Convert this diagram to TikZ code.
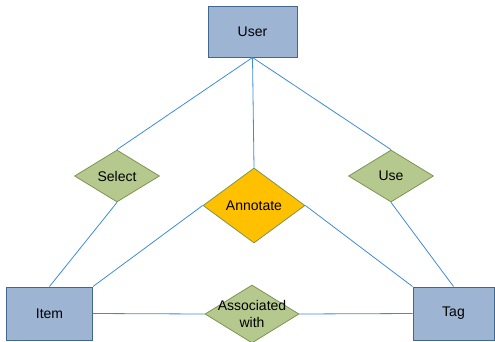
\documentclass[tikz,border=0pt]{standalone}
\usepackage{fontspec}
\setmainfont{Liberation Sans}
\usetikzlibrary{shapes.geometric}
\definecolor{boxfill}{HTML}{9DB4D3}
\definecolor{boxdraw}{HTML}{41678F}
\definecolor{dfill}{HTML}{B5C98E}
\definecolor{ddraw}{HTML}{7D9450}
\definecolor{afill}{HTML}{FFC000}
\definecolor{link}{HTML}{3E8CD8}
\tikzset{
  ent/.style={draw=boxdraw, fill=boxfill, line width=1pt, minimum width=86pt, minimum height=52pt, inner sep=0pt, font=\fontsize{14}{17}\selectfont},
  rel/.style={diamond, draw=ddraw, fill=dfill, line width=0.8pt, inner sep=0pt, minimum width=85pt, minimum height=52pt, label={[font=\fontsize{14}{17.5}\selectfont, align=center]center:#1}},
  conn/.style={draw=link, line width=0.8pt},
}
\begin{document}
\begin{tikzpicture}[x=1pt,y=1pt]
\useasboundingbox (0,0) rectangle (495,-341);
\node[ent, minimum width=89pt, minimum height=51pt] (user) at (252.5,-31.5) {User};
\node[ent, minimum width=86pt, minimum height=53pt] (item) at (49.5,-313.5) {Item};
\node[ent, minimum width=81pt, minimum height=53pt] (tag) at (453.5,-313.5) {Tag};
\node[rel=Select] (sel) at (117,-176) {};
\node[rel=Use] (use) at (391,-176) {};
\node[rel=Annotate, fill=afill, minimum width=102pt, minimum height=75pt] (ann) at (254,-205.5) {};
\node[rel={Associated\\with}, minimum width=94pt, minimum height=58pt] (asc) at (252,-314) {};
\draw[conn] (user.south) -- (sel.north);
\draw[conn] (user.south) -- (use.north);
\draw[conn] (user.south) -- (ann.north);
\draw[conn] (sel.south) -- (item.north);
\draw[conn] (use.south) -- (tag.north);
\draw[conn] (item.north east) -- (ann.west);
\draw[conn] (ann.east) -- (tag.north west);
\draw[conn] (item.east) -- (asc.west);
\draw[conn] (asc.east) -- (tag.west);
\end{tikzpicture}
\end{document}
